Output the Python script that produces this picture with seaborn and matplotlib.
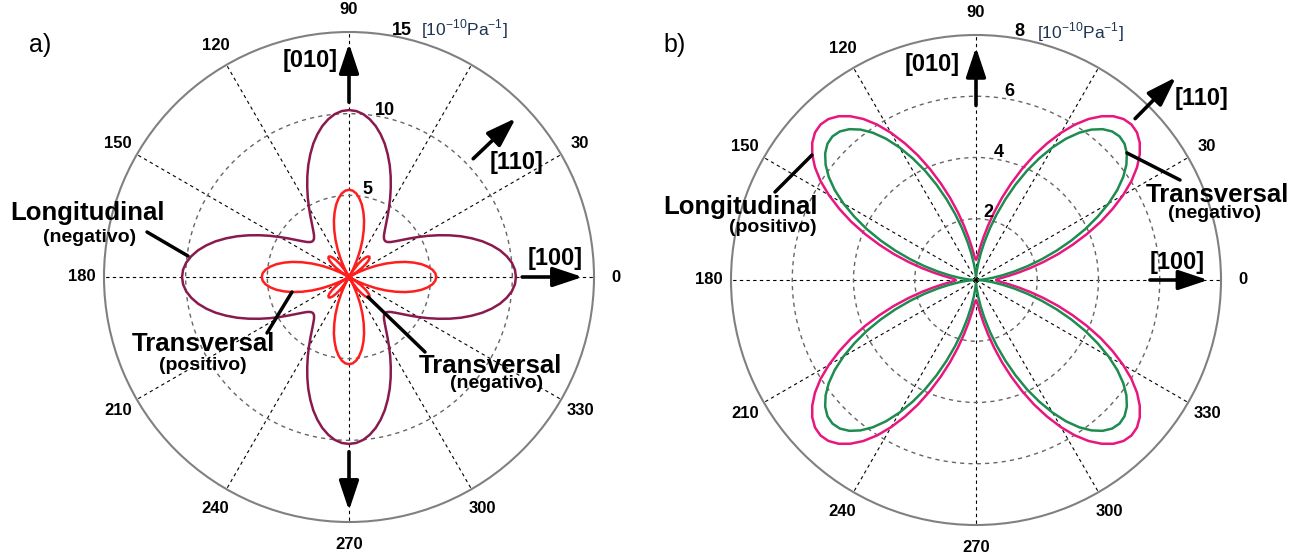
import numpy as np
import pandas as pd
import matplotlib
matplotlib.use("Agg")
import matplotlib.pyplot as plt
import seaborn as sns

sns.set_style("white")
plt.rcParams["font.family"] = ["Liberation Sans", "DejaVu Sans"]
plt.rcParams["mathtext.fontset"] = "custom"
plt.rcParams["mathtext.rm"] = "Liberation Sans"
plt.rcParams["text.color"] = "black"

# ---------------- data (one quadrant, 0..90 deg; curves repeat every 90 deg) ----------------
angles_q = [0, 2.5, 5, 7.5, 10, 12.5, 15, 17.5, 20, 22.5, 25, 27.5, 30, 32.5, 35, 37.5, 40, 42.5, 45,
            47.5, 50, 52.5, 55, 57.5, 60, 62.5, 65, 67.5, 70, 72.5, 75, 77.5, 80, 82.5, 85, 87.5, 90]

# a) |pi| in 10^-10 Pa^-1
a_long_q = [10.22, 10.17, 10.01, 9.74, 9.39, 8.95, 8.45, 7.88, 7.29, 6.67, 6.05, 5.46, 4.90, 4.39, 3.95, 3.60, 3.33, 3.17, 3.12,
            3.17, 3.33, 3.60, 3.95, 4.39, 4.90, 5.46, 6.05, 6.67, 7.29, 7.88, 8.45, 8.95, 9.39, 9.74, 10.01, 10.17, 10.22]
a_trans_q = [5.34, 5.29, 5.13, 4.86, 4.51, 4.07, 3.57, 3.00, 2.41, 1.79, 1.17, 0.58, 0.02, 0.49, 0.93, 1.28, 1.55, 1.71, 1.76,
             1.71, 1.55, 1.28, 0.93, 0.49, 0.02, 0.58, 1.17, 1.79, 2.41, 3.00, 3.57, 4.07, 4.51, 4.86, 5.13, 5.29, 5.34]
# b)
b_long_q = [0.66, 0.71, 0.86, 1.10, 1.42, 1.82, 2.29, 2.81, 3.35, 3.92, 4.49, 5.03, 5.55, 6.02, 6.42, 6.74, 6.98, 7.13, 7.18,
            7.13, 6.98, 6.74, 6.42, 6.02, 5.55, 5.03, 4.49, 3.92, 3.35, 2.81, 2.29, 1.82, 1.42, 1.10, 0.86, 0.71, 0.66]
b_trans_q = [0.11, 0.16, 0.31, 0.55, 0.87, 1.27, 1.74, 2.25, 2.80, 3.37, 3.94, 4.48, 5.00, 5.47, 5.87, 6.19, 6.43, 6.58, 6.63,
             6.58, 6.43, 6.19, 5.87, 5.47, 5.00, 4.48, 3.94, 3.37, 2.80, 2.25, 1.74, 1.27, 0.87, 0.55, 0.31, 0.16, 0.11]

angle_labels = [0, 30, 90, 120, 150, 180, 210, 240, 270, 300, 330]
a_rticks = [5, 10, 15]
b_rticks = [2, 4, 6, 8]
units = r"[10$^{\mathregular{-10}}$Pa$^{\mathregular{-1}}$]"


def full_circle(vals):
    th, r = [], []
    for k in range(4):
        for i, a in enumerate(angles_q):
            if k > 0 and i == 0:
                continue
            th.append(a + 90 * k)
            r.append(vals[i])
    return pd.DataFrame({"theta": np.deg2rad(th), "r": r})


W, H = 1304, 556
fig = plt.figure(figsize=(W / 100, H / 100), dpi=100)


def F(x, y):
    return (x / W, 1 - y / H)


R = 245
axA = fig.add_axes([(349 - R) / W, 1 - (277 + R) / H, 2 * R / W, 2 * R / H], projection="polar")
axB = fig.add_axes([(976 - R) / W, 1 - (280 + R) / H, 2 * R / W, 2 * R / H], projection="polar")


def setup(ax, rmax, rticks, lab_ang):
    ax.set_ylim(0, rmax)
    ax.set_yticks(rticks[:-1])
    ax.set_yticklabels([])
    ax.set_xticks(np.deg2rad(np.arange(0, 360, 30)))
    ax.set_xticklabels([])
    ax.xaxis.grid(True, color="black", linestyle=(0, (3, 3)), linewidth=0.8)
    ax.yaxis.grid(True, color="#666666", linestyle=(0, (3, 3)), linewidth=1.0)
    ax.spines["polar"].set_color("#808080")
    ax.spines["polar"].set_linewidth(1.5)
    ax.set_xlabel("")
    ax.set_ylabel("")
    for d in angle_labels:
        ax.text(np.deg2rad(d), rmax * 1.09, str(d), ha="center", va="center",
                fontsize=12, fontweight="bold", clip_on=False)
    for v in rticks:
        ax.text(np.deg2rad(lab_ang), v + 0.03 * rmax, str(v), ha="center", va="center",
                fontsize=13, fontweight="bold", clip_on=False)


def curve(ax, vals, color):
    df = full_circle(vals)
    sns.lineplot(data=df, x="theta", y="r", ax=ax, sort=False, estimator=None,
                 color=color, linewidth=1.8)


curve(axA, a_long_q, "#8a1a4e")
curve(axA, a_trans_q, "#ff1e1e")
setup(axA, 15, a_rticks, 78)

curve(axB, b_long_q, "#e8177f")
curve(axB, b_trans_q, "#1e8c50")
setup(axB, 8, b_rticks, 80)

fig.text(*F(421, 29), units, ha="left", va="center", fontsize=12.5, color="#1f3350")
fig.text(*F(1037, 32), units, ha="left", va="center", fontsize=12.5, color="#1f3350")

arrow_kw = dict(arrowstyle="-|>,head_length=0.9,head_width=0.3", lw=2.6, color="black",
                mutation_scale=20, shrinkA=0, shrinkB=0)


def arrow(ax, ang, r0, r1):
    t = np.deg2rad(ang)
    ax.annotate("", xy=(t, r1), xytext=(t, r0), arrowprops=arrow_kw, annotation_clip=False)


arrow(axA, 90, 10.7, 14.3)
arrow(axA, 270, 10.7, 14.3)
arrow(axA, 0, 10.6, 14.3)
arrow(axA, 43.6, 10.5, 14.1)

arrow(axB, 90, 5.7, 7.6)
arrow(axB, 0, 5.68, 7.58)
arrow(axB, 45.4, 7.4, 9.3)

big = dict(fontsize=18.5, fontweight="bold", ha="center", va="center")
small = dict(fontsize=14, fontweight="bold", ha="center", va="center")
dirn = dict(fontsize=17, fontweight="bold", ha="center", va="center")

fig.text(*F(310, 60), "[010]", **dirn)
fig.text(*F(517, 163), "[110]", **dirn)
fig.text(*F(555, 258), "[100]", **dirn)
fig.text(*F(932, 65), "[010]", **dirn)
fig.text(*F(1202, 98), "[110]", **dirn)
fig.text(*F(1177, 262), "[100]", **dirn)

fig.text(*F(88, 213), "Longitudinal", **big)
fig.text(*F(90, 237), "(negativo)", **small)
fig.text(*F(203, 344), "Transversal", **big)
fig.text(*F(203, 366), "(positivo)", **small)
fig.text(*F(490, 366), "Transversal", **big)
fig.text(*F(497, 384), "(negativo)", **small)

fig.text(*F(740, 207), "Longitudinal", **big)
fig.text(*F(773, 227), "(positivo)", **small)
fig.text(*F(1217, 195), "Transversal", **big)
fig.text(*F(1215, 213), "(negativo)", **small)


def leader(p0, p1):
    fig.add_artist(plt.Line2D([p0[0] / W, p1[0] / W], [1 - p0[1] / H, 1 - p1[1] / H],
                              color="black", lw=2.5, transform=fig.transFigure))


leader((147, 232), (188, 256))
leader((267, 333), (292, 292))
leader((425, 352), (368, 297))
leader((775, 192), (812, 155))
leader((1127, 153), (1180, 180))

fig.text(*F(40, 45), "a)", fontsize=18, ha="center", va="center")
fig.text(*F(675, 45), "b)", fontsize=18, ha="center", va="center")

fig.savefig("out.png", dpi=100, facecolor="white")
